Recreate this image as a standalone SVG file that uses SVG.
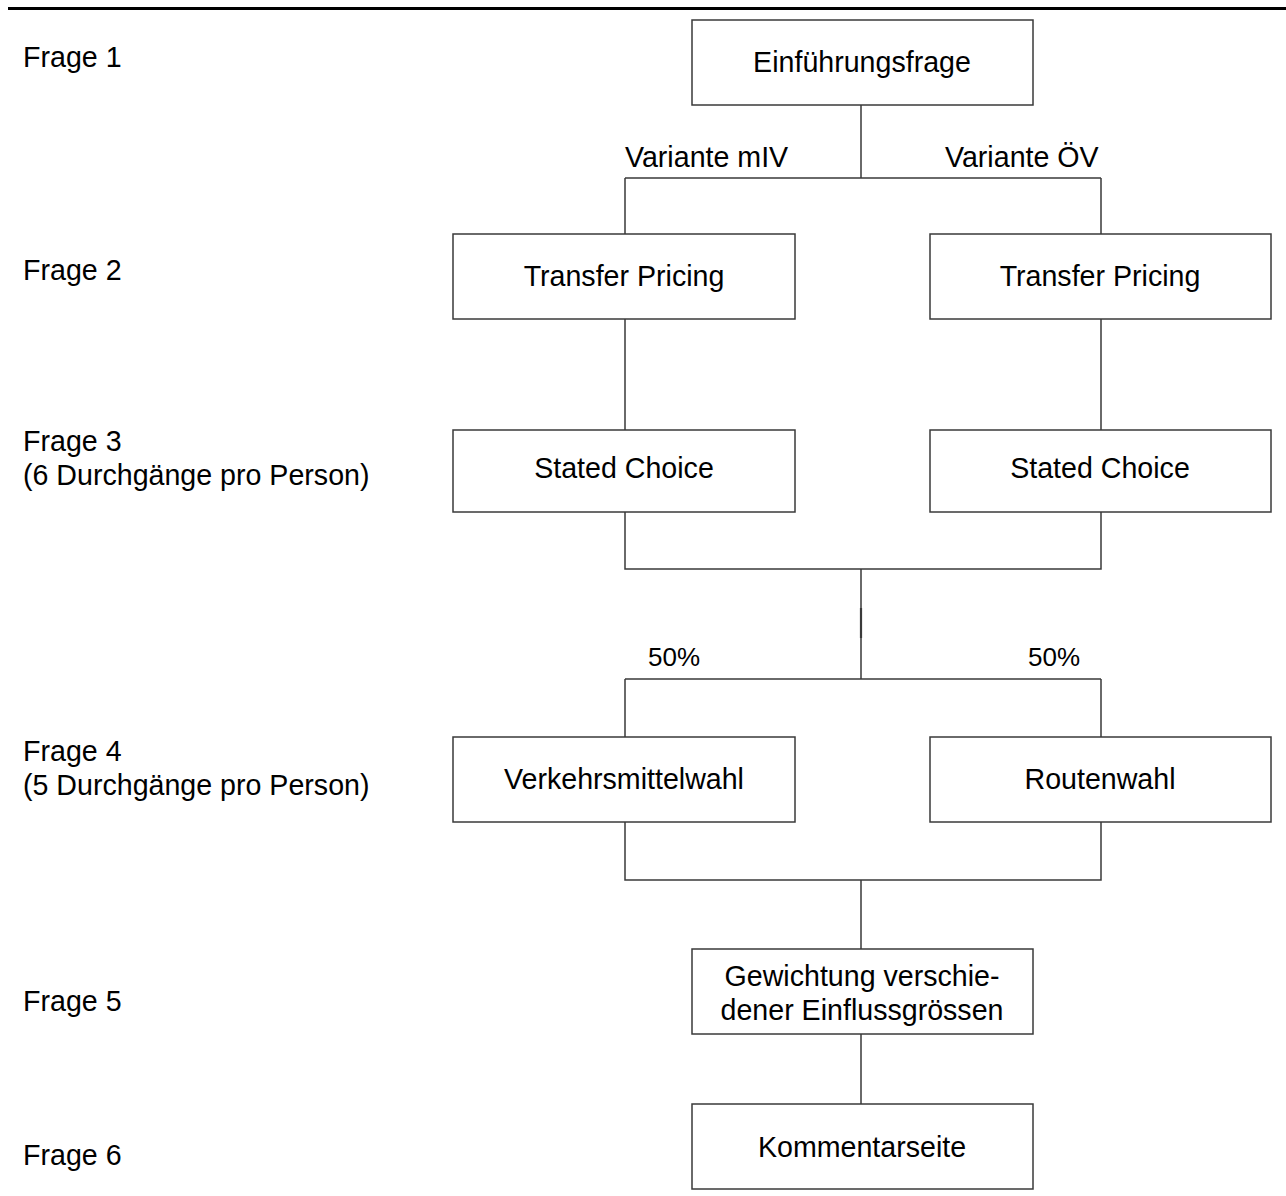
<svg xmlns="http://www.w3.org/2000/svg" width="1286" height="1196" viewBox="0 0 1286 1196">
<style>
text{font-family:"Liberation Sans",Arial,sans-serif;font-size:28.6px;fill:#000}
.c{text-anchor:middle}
.box{fill:#fff;stroke:#3a3a3a;stroke-width:1.5}
.ln{fill:none;stroke:#3a3a3a;stroke-width:1.5}
.p{font-size:26px}
</style>
<rect width="1286" height="1196" fill="#fff"/>
<line x1="8" y1="8.5" x2="1286" y2="8.5" stroke="#000" stroke-width="3"/>
<g id="labels">
<text x="23" y="67">Frage 1</text>
<text x="23" y="280">Frage 2</text>
<text x="23" y="451">Frage 3</text>
<text x="23" y="485">(6 Durchgänge pro Person)</text>
<text x="23" y="761">Frage 4</text>
<text x="23" y="795">(5 Durchgänge pro Person)</text>
<text x="23" y="1011">Frage 5</text>
<text x="23" y="1165">Frage 6</text>
</g>
<g id="connectors">
<path class="ln" d="M861 105V178M625 178H1101M625 178V234M1101 178V234"/>
<path class="ln" d="M625 319V430M1101 319V430"/>
<path class="ln" d="M625 512V569H1101V512M861 569V679M625 679H1101M625 679V737M1101 679V737"/>
<line x1="861" y1="608" x2="861" y2="638" stroke="#3a3a3a" stroke-width="2.2"/>
<path class="ln" d="M625 822V880H1101V822M861 880V949M861 1034V1104"/>
<text x="625" y="167">Variante mIV</text>
<text x="945" y="167">Variante ÖV</text>
<text class="p" x="648" y="666">50%</text>
<text class="p" x="1028" y="666">50%</text>
</g>
<g id="n1"><rect class="box" x="692" y="20" width="341" height="85"/><text class="c" x="862" y="72">Einführungsfrage</text></g>
<g id="n2"><rect class="box" x="453" y="234" width="342" height="85"/><text class="c" x="624" y="286">Transfer Pricing</text></g>
<g id="n3"><rect class="box" x="930" y="234" width="341" height="85"/><text class="c" x="1100" y="286">Transfer Pricing</text></g>
<g id="n4"><rect class="box" x="453" y="430" width="342" height="82"/><text class="c" x="624" y="478">Stated Choice</text></g>
<g id="n5"><rect class="box" x="930" y="430" width="341" height="82"/><text class="c" x="1100" y="478">Stated Choice</text></g>
<g id="n6"><rect class="box" x="453" y="737" width="342" height="85"/><text class="c" x="624" y="789">Verkehrsmittelwahl</text></g>
<g id="n7"><rect class="box" x="930" y="737" width="341" height="85"/><text class="c" x="1100" y="789">Routenwahl</text></g>
<g id="n8"><rect class="box" x="692" y="949" width="341" height="85"/><text class="c" x="862" y="986">Gewichtung verschie-</text><text class="c" x="862" y="1020">dener Einflussgrössen</text></g>
<g id="n9"><rect class="box" x="692" y="1104" width="341" height="85"/><text class="c" x="862" y="1157">Kommentarseite</text></g>
</svg>
